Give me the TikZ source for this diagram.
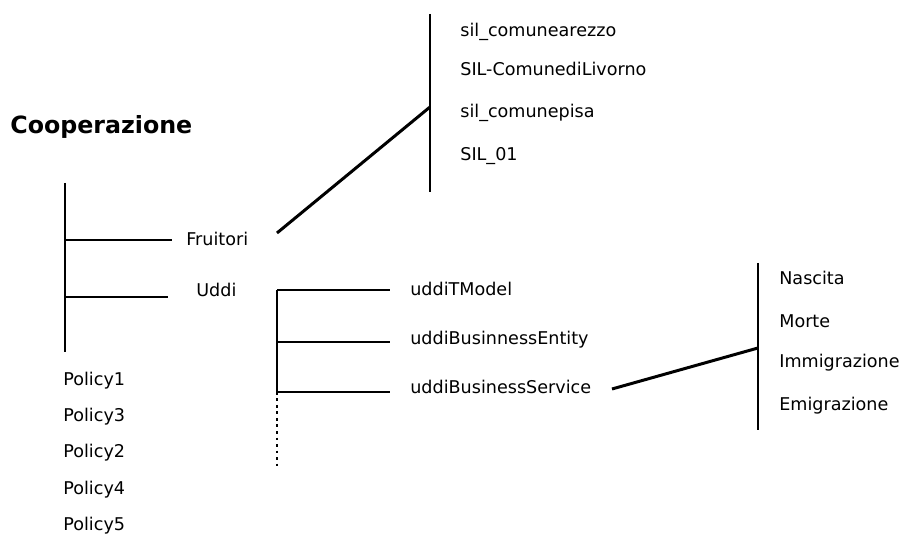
\documentclass[tikz,border=0pt]{standalone}
\usepackage{fontspec}
\setmainfont{DejaVu Sans}
\usetikzlibrary{positioning}

\begin{document}
\begin{tikzpicture}[
    x=0.02cm, y=-0.02cm,
    every node/.style={font=\fontsize{10}{12}\selectfont}
]

\tikzset{
    titlenode/.style={anchor=west, inner sep=0pt, font=\fontsize{13.5}{15}\selectfont\bfseries},
    leafnode/.style={anchor=west, inner sep=0pt, text height=1.6ex, text depth=0.45ex},
    branch/.style={line width=1.7pt, line cap=butt},
    dotbranch/.style={line width=1.7pt, dotted}
}

\useasboundingbox (0,0) rectangle (900,536);

\node [titlenode] (coop) at (10,127) {Cooperazione};

% main tree
\coordinate (roottop) at (65,183);
\coordinate (rootbot) at (65,352);
\coordinate (rootfru) at (65,240);
\coordinate (rootudd) at (65,297);
\draw [branch] (roottop) -- (rootbot);

\node [leafnode] (fruitori) at (186,240) {Fruitori};
\node [leafnode] (uddi) at (196,291) {Uddi};
\coordinate (frutip) at (172,240);
\coordinate (uddtip) at (168,297);
\draw [branch] (rootfru) -- (frutip);
\draw [branch] (rootudd) -- (uddtip);

\node [leafnode] (pol1) at (63,380) {Policy1};
\node [leafnode] (pol3) at (63,416) {Policy3};
\node [leafnode] (pol2) at (63,452) {Policy2};
\node [leafnode] (pol4) at (63,489) {Policy4};
\node [leafnode] (pol5) at (63,525) {Policy5};

% fruitori
\coordinate (frufrom) at (277,233);
\coordinate (silmid) at (430,107);
\coordinate (siltop) at (430,14);
\coordinate (silbot) at (430,192);
\draw [branch] (siltop) -- (silbot);
\draw [branch] (frufrom) -- (silmid);

\node [leafnode] (sil1) at (460,31) {sil\_comunearezzo};
\node [leafnode] (sil2) at (460,70) {SIL-ComunediLivorno};
\node [leafnode] (sil3) at (460,112) {sil\_comunepisa};
\node [leafnode] (sil4) at (460,155) {SIL\_01};

% uddi
\coordinate (uddtop) at (277,290);
\coordinate (uddmid) at (277,342);
\coordinate (uddlow) at (277,392);
\coordinate (uddend) at (277,466);
\draw [branch] (uddtop) -- (uddlow);
\draw [dotbranch] (uddlow) -- (uddend);

\node [leafnode] (tmodel) at (410,290) {uddiTModel};
\node [leafnode] (bentity) at (410,339) {uddiBusinnessEntity};
\node [leafnode] (bservice) at (410,388) {uddiBusinessService};
\draw [branch] (uddtop) -- (390,290);
\draw [branch] (uddmid) -- (390,342);
\draw [branch] (uddlow) -- (390,392);

% servizi
\coordinate (servfrom) at (612,389);
\coordinate (servmid) at (758,348);
\coordinate (servtop) at (758,263);
\coordinate (servbot) at (758,430);
\draw [branch] (servtop) -- (servbot);
\draw [branch] (servfrom) -- (servmid);

\node [leafnode] (nascita) at (779,279) {Nascita};
\node [leafnode] (morte) at (779,322) {Morte};
\node [leafnode] (immig) at (779,362) {Immigrazione};
\node [leafnode] (emig) at (779,405) {Emigrazione};

\end{tikzpicture}
\end{document}
